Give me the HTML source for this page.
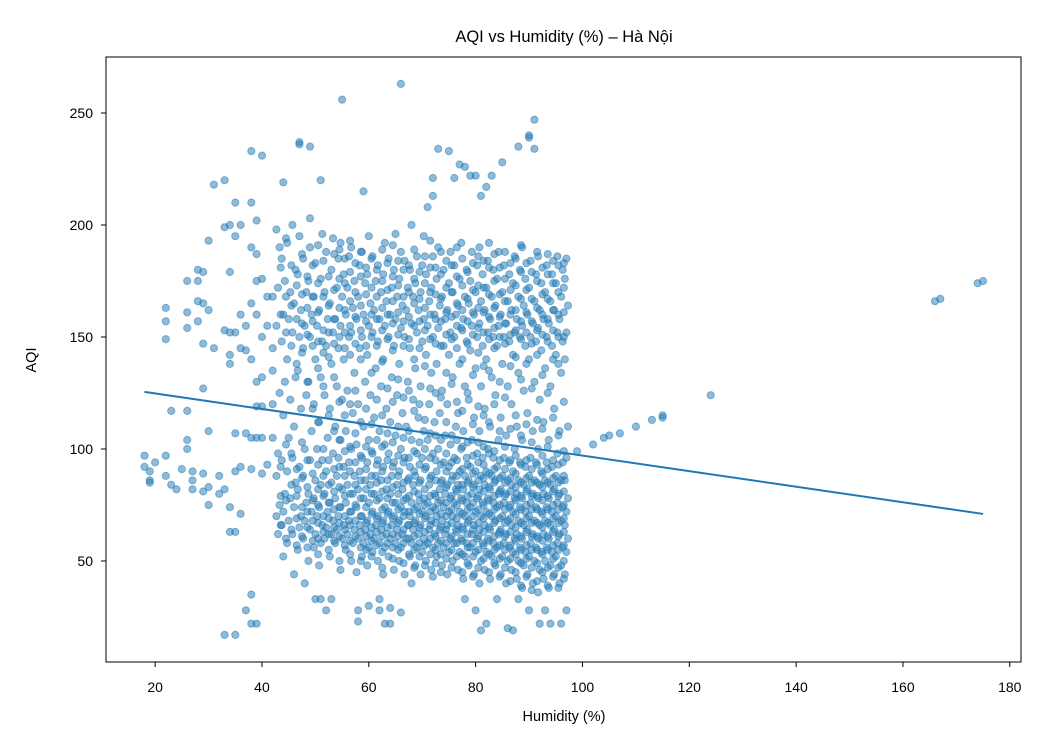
<!DOCTYPE html>
<html><head><meta charset="utf-8"><style>
html,body{margin:0;padding:0;background:#fff;}
svg{display:block;font-family:"Liberation Sans","DejaVu Sans",sans-serif;}
</style></head><body>
<svg id="chart" width="1050" height="750" viewBox="0 0 1050 750" xmlns="http://www.w3.org/2000/svg">
<rect width="1050" height="750" fill="#fff"/>
<text x="564" y="42" font-size="16.5" text-anchor="middle" fill="#000">AQI vs Humidity (%) – Hà Nội</text>
<g id="points"></g>
<g id="trend"></g>
<rect x="106" y="57" width="915" height="605" fill="none" stroke="#000" stroke-width="1"/>
<g id="xticks"></g>
<g id="yticks"></g>
<text x="564" y="721" font-size="14.5" text-anchor="middle">Humidity (%)</text>
<text transform="translate(36,360) rotate(-90)" font-size="14.5" text-anchor="middle">AQI</text>
</svg>
<script>
const xTicks = [20,40,60,80,100,120,140,160,180];
const yTicks = [50,100,150,200,250];
const sparseHumidity = [18,18,19,19,20,19,22,22,22,22,22,23,24,23,25,26,26,26,26,26,26,27,27,27,28,28,28,28,29,29,29,29,29,29,30,30,30,30,30,31,31,32,32,33,33,33,33,33,34,34,34,34,34,34,34,35,35,35,35,35,35,35,36,36,36,36,36,37,37,37,37,38,38,38,38,38,38,38,38,38,39,39,39,39,39,39,39,39,40,40,40,40,40,40,40,41,41,41,42,42,42,42,42,
99,102,104,105,107,110,113,115,115,124,166,167,174,175,
47,47,49,55,66,72,73,75,77,76,78,79,80,81,82,83,85,88,90,90,91,91,51,59,44,49,71,72,
44,46,48,50,51,52,53,58,58,62,62,64,64,66,68,72,78,80,81,82,84,86,87,88,90,92,93,94,96,97,63,60];
const sparseAqi = [97,92,86,90,94,85,163,157,149,97,88,117,82,84,91,175,161,154,104,100,117,82,86,90,180,175,166,157,179,165,147,127,89,81,193,162,108,83,75,218,145,88,80,220,199,153,82,17,152,142,138,179,200,74,63,210,195,152,107,90,63,17,200,160,145,92,71,155,144,107,28,233,210,190,165,140,105,91,35,22,202,187,175,160,130,119,105,22,231,176,150,132,119,89,105,168,155,93,168,145,135,120,105,
99,102,105,106,107,110,113,115,114,124,166,167,174,175,
237,236,235,256,263,213,234,233,227,221,226,222,222,213,217,222,228,235,239,240,247,234,220,215,219,203,208,221,
52,44,40,33,33,28,33,28,23,33,28,22,29,27,40,43,33,28,19,22,33,20,19,33,28,22,28,22,22,28,22,30];
const colHumidity = [43,44,45,46,47,48,49,50,51,52,53,54,55,56,57,58,59,60,61,62,63,64,65,66,67,68,69,70,71,72,73,74,75,76,77,78,79,80,81,82,83,84,85,86,87,88,89,90,91,92,93,94,95,96,97];
const colAqi = [
[70,62,75,88,98,125,155,172,190,198],
[66,72,80,95,115,130,148,160,175,185],
[58,68,78,90,105,122,140,158,170,192],
[62,74,85,96,110,132,152,165,180,200],
[55,65,70,82,92,118,135,150,162,178,195],
[60,68,76,88,100,124,145,155,170,185],
[50,64,72,80,95,108,130,150,160,175,190],
[56,62,70,78,86,100,120,140,155,168,183],
[48,58,66,74,84,95,112,132,148,162,176,196],
[60,65,72,80,90,105,124,146,158,170,188],
[52,62,68,76,85,98,118,138,152,165,180,194],
[58,64,70,78,88,96,110,128,145,158,172,185],
[46,60,66,74,82,92,104,122,140,155,168,178,192],
[55,62,68,76,84,94,108,126,150,160,172,186],
[50,58,64,72,80,88,100,116,134,152,163,175,190],
[45,60,66,74,82,90,102,120,145,158,168,182],
[52,58,64,70,78,86,96,110,130,150,160,174,188],
[48,56,62,68,76,84,94,104,124,142,155,165,178,195],
[54,60,66,72,80,88,98,114,136,152,162,175,186],
[50,58,64,70,78,86,95,108,128,148,158,170,182],
[44,56,62,68,74,82,92,102,118,140,155,166,178,192],
[52,60,66,72,80,88,98,112,132,150,160,172,185],
[46,58,64,70,76,84,94,106,124,146,158,168,180,196],
[50,56,62,68,74,82,90,100,116,138,154,164,176,188],
[44,60,66,72,78,86,96,110,130,150,162,172,184],
[52,58,64,70,76,84,92,104,122,145,156,168,180,200],
[48,56,62,68,74,80,88,98,114,136,152,162,174,186],
[44,54,60,66,72,78,86,96,108,128,148,158,170,182,195],
[50,58,64,70,76,84,92,104,120,142,155,166,178],
[46,56,62,68,74,80,88,98,112,134,150,160,172,186],
[52,58,64,70,76,82,90,100,116,138,154,164,176,190],
[48,56,62,68,74,80,86,94,106,126,146,158,168,180],
[44,54,60,66,72,78,84,92,102,120,142,152,162,174,188],
[50,58,64,70,76,82,88,96,110,132,150,160,170,182],
[46,54,60,66,72,78,84,90,100,116,138,154,164,176,192],
[42,52,58,64,70,76,82,88,96,108,128,148,158,168,180],
[48,56,62,68,74,80,86,92,104,122,144,155,165,175,188],
[44,54,60,66,72,78,84,90,98,114,136,150,160,170,182],
[40,50,58,64,70,76,82,88,96,108,128,146,156,166,178,190],
[46,54,60,66,72,78,84,90,100,118,140,152,162,172,184],
[42,52,58,64,70,76,82,88,96,110,132,150,158,168,180],
[48,56,62,68,74,80,86,92,104,124,146,155,164,176,188],
[44,52,58,64,70,76,82,88,96,114,138,150,160,170,182],
[40,50,56,62,68,74,80,86,94,106,128,148,156,166,178],
[46,54,60,66,72,78,84,90,100,120,142,152,162,174,186],
[42,50,56,62,68,74,80,86,94,110,134,150,158,168,180],
[38,48,54,60,66,72,78,84,92,104,126,146,155,164,176,190],
[44,52,58,64,70,76,82,88,96,116,140,150,160,172,184],
[40,50,56,62,68,74,80,86,94,108,130,148,156,166,178],
[36,46,54,60,66,72,78,84,90,100,122,144,154,162,174,186],
[42,50,56,62,68,74,80,86,94,112,136,150,158,170,182],
[38,48,54,60,66,72,78,84,92,104,128,146,156,166,178],
[44,52,58,64,70,76,82,88,98,118,142,152,162,174,186],
[40,48,56,62,68,74,80,86,94,108,134,148,158,168,180],
[44,54,60,66,72,78,86,96,110,140,152,164,176,185]
];
const colHumidity2 = [43.5,44.5,45.5,46.5,47.5,48.5,49.5,50.5,51.5,52.5,53.5,54.5,55.5,56.5,57.5,58.5,59.5,60.5,61.5,62.5,63.5,64.5,65.5,66.5,67.5,68.5,69.5,70.5,71.5,72.5,73.5,74.5,75.5,76.5,77.5,78.5,79.5,80.5,81.5,82.5,83.5,84.5,85.5,86.5,87.5,88.5,89.5,90.5,91.5,92.5,93.5,94.5,95.5,96.5];
const colAqi2 = [
[66,79,92,160,181],
[60,77,102,152,168,194],
[64,84,98,146,164,182],
[57,69,79,91,138,158,173],
[61,74,87,103,143,156,169,187],
[56,65,72,83,95,130,151,163,177],
[59,68,77,89,118,146,157,168,182],
[53,60,67,75,82,93,112,136,148,161,174,191],
[63,70,79,88,100,128,143,153,168,184],
[55,62,69,76,84,95,115,141,152,164,177],
[59,65,73,81,91,108,132,147,158,171,187],
[50,61,67,74,83,92,104,121,150,163,176,189],
[57,64,70,79,88,99,115,145,152,162,174,185],
[53,59,66,72,80,90,101,120,142,155,166,179,193],
[61,68,75,84,94,107,126,147,159,170,183],
[50,56,63,70,78,86,97,112,140,153,164,177,188],
[55,61,67,74,82,91,101,118,146,157,169,181],
[52,59,65,71,80,88,99,111,134,150,160,172,185],
[57,63,69,77,85,93,104,122,146,158,168,180],
[47,54,61,67,73,81,90,101,115,139,153,163,175,189],
[58,65,71,78,86,95,107,127,149,160,171,183],
[51,56,62,69,76,83,92,103,121,144,156,166,177,191],
[55,61,67,73,80,88,97,110,131,151,161,173,184],
[49,58,64,70,77,85,94,105,123,146,157,168,180],
[53,60,66,72,79,87,96,108,126,149,159,170,182],
[47,55,61,67,73,81,90,99,117,140,155,165,176,189],
[52,58,65,71,77,85,93,103,120,145,157,167,179],
[48,57,63,69,75,82,91,100,113,137,153,163,174,186],
[53,60,66,72,79,87,96,107,127,149,160,170,181,193],
[49,55,61,67,73,79,86,95,106,125,147,158,169,181],
[45,53,59,65,71,77,85,93,104,123,146,157,167,178,188],
[51,58,64,70,76,83,90,98,112,134,151,161,172,184],
[47,55,61,67,73,79,86,94,106,129,149,159,170,182],
[52,58,63,69,75,81,88,95,104,121,145,155,165,177,190],
[45,53,59,65,71,77,84,91,101,117,140,153,162,173,185],
[49,56,62,67,73,79,85,93,103,125,147,157,167,179],
[43,52,58,64,70,76,83,89,97,111,133,151,161,171,183],
[47,55,61,67,73,79,86,94,103,119,143,154,163,173,186],
[51,57,63,69,75,81,87,93,101,115,137,152,161,172,184],
[45,53,59,65,71,77,83,89,98,112,135,149,159,169,181,192],
[49,55,61,67,73,79,85,91,99,120,145,154,163,175,187],
[43,51,57,63,69,75,81,87,95,108,130,150,159,169,181],
[47,55,61,67,73,79,85,91,101,123,147,156,166,176,188],
[41,51,57,63,69,75,81,87,95,109,137,151,160,171,183],
[45,53,59,65,71,77,83,89,97,115,141,153,162,173,185],
[39,49,55,61,67,73,79,85,93,106,131,149,157,167,179,191],
[43,51,57,63,69,75,81,87,95,111,138,152,161,171,183],
[37,47,55,61,67,73,79,85,91,103,127,147,157,167,179],
[41,49,55,61,67,73,79,85,93,113,142,153,163,175,188],
[45,53,59,65,71,77,83,89,97,109,133,151,160,169,181],
[39,47,55,61,67,73,79,85,91,101,125,148,158,167,178,187],
[43,51,57,63,69,75,81,87,95,114,140,153,162,174,184],
[38,47,55,61,67,73,79,85,93,106,138,150,160,170,182],
[42,50,57,63,69,75,81,88,99,121,150,161,172,183]
];
const trendX = [18,175];
const trendY = [125.5,71];

const NS = "http://www.w3.org/2000/svg";
const X0 = 106, X1 = 1021, Y0 = 57, Y1 = 662;
const xMin = 10.8, xMax = 182.1, yMin = 4.9, yMax = 275;
function sx(v){ return X0 + (v - xMin) / (xMax - xMin) * (X1 - X0); }
function sy(v){ return Y1 - (v - yMin) / (yMax - yMin) * (Y1 - Y0); }

const pts = document.getElementById('points');
function dot(x, y){
  const c = document.createElementNS(NS, 'circle');
  c.setAttribute('cx', sx(x).toFixed(1));
  c.setAttribute('cy', sy(y).toFixed(1));
  c.setAttribute('r', 3.6);
  c.setAttribute('fill', '#1f77b4');
  c.setAttribute('fill-opacity', '0.5');
  c.setAttribute('stroke', '#1f77b4');
  c.setAttribute('stroke-opacity', '0.5');
  c.setAttribute('stroke-width', '1');
  
  
  pts.appendChild(c);
}
for (let i = 0; i < sparseHumidity.length; i++) dot(sparseHumidity[i], sparseAqi[i]);
for (let i = 0; i < colHumidity.length; i++) {
  for (let j = 0; j < colAqi[i].length; j++) {
    const off = ((j % 3) - 1) * 0.3;
    dot(colHumidity[i] + off, colAqi[i][j]);
  }
}
for (let i = 0; i < colHumidity2.length; i++) {
  for (let j = 0; j < colAqi2[i].length; j++) {
    dot(colHumidity2[i], colAqi2[i][j]);
  }
}

const tl = document.createElementNS(NS, 'line');
tl.setAttribute('x1', sx(trendX[0])); tl.setAttribute('y1', sy(trendY[0]));
tl.setAttribute('x2', sx(trendX[1])); tl.setAttribute('y2', sy(trendY[1]));
tl.setAttribute('stroke', '#1f77b4'); tl.setAttribute('stroke-width', '2');


document.getElementById('trend').appendChild(tl);

const xg = document.getElementById('xticks');
xTicks.forEach(v => {
  const l = document.createElementNS(NS, 'line');
  l.setAttribute('x1', sx(v)); l.setAttribute('x2', sx(v));
  l.setAttribute('y1', Y1); l.setAttribute('y2', Y1 + 5);
  l.setAttribute('stroke', '#000');
  
  
  xg.appendChild(l);
  const t = document.createElementNS(NS, 'text');
  t.setAttribute('x', sx(v)); t.setAttribute('y', 692);
  t.setAttribute('font-size', '14'); t.setAttribute('text-anchor', 'middle');
  
  
  t.textContent = v;
  xg.appendChild(t);
});
const yg = document.getElementById('yticks');
yTicks.forEach(v => {
  const l = document.createElementNS(NS, 'line');
  l.setAttribute('x1', X0 - 5); l.setAttribute('x2', X0);
  l.setAttribute('y1', sy(v)); l.setAttribute('y2', sy(v));
  l.setAttribute('stroke', '#000');
  
  
  yg.appendChild(l);
  const t = document.createElementNS(NS, 'text');
  t.setAttribute('x', 93); t.setAttribute('y', sy(v) + 5);
  t.setAttribute('font-size', '14'); t.setAttribute('text-anchor', 'end');
  
  
  t.textContent = v;
  yg.appendChild(t);
});
</script>
</body></html>
